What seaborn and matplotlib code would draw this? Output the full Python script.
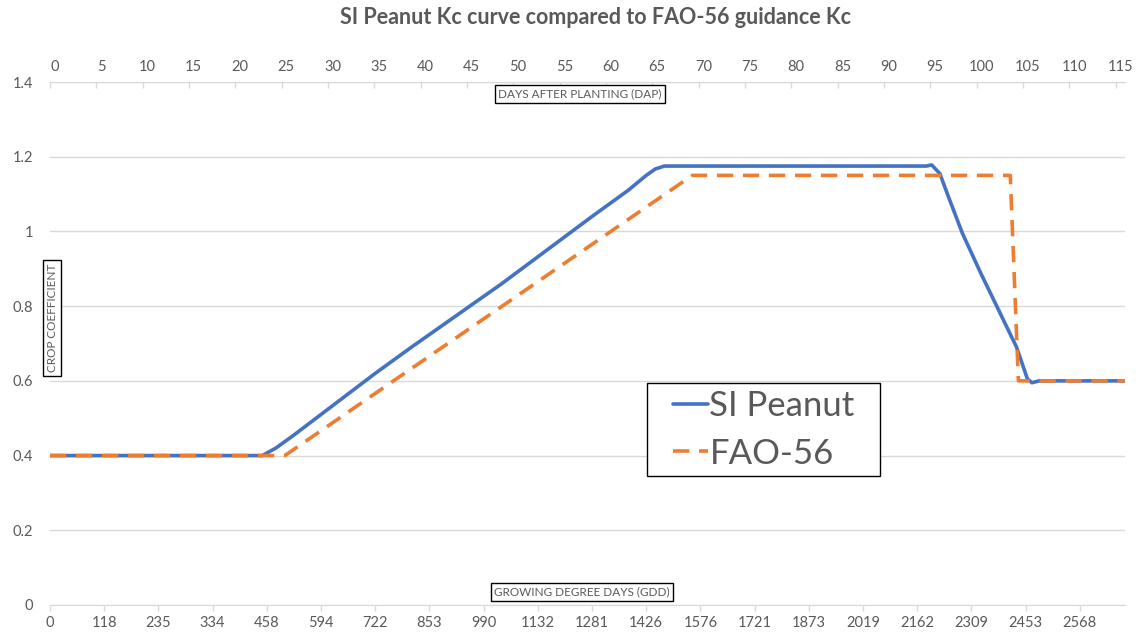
import numpy as np
import pandas as pd
import matplotlib
matplotlib.use('Agg')
import matplotlib.pyplot as plt
from matplotlib.patches import Rectangle
from matplotlib.ticker import FuncFormatter
import seaborn as sns

# x = GDD category index (one per day), y = crop coefficient
si_day = [0, 23.5, 25, 27, 30, 33, 36, 40, 45, 50, 55, 60, 62, 64, 66, 67, 68,
          97, 97.6, 98.5, 99.5, 101, 103, 105, 107, 108.2, 108.7, 109.5, 119]
si_kc = [0.40, 0.40, 0.42, 0.455, 0.51, 0.565, 0.62, 0.69, 0.775, 0.86, 0.95, 1.04, 1.075, 1.11, 1.15, 1.167, 1.175,
         1.175, 1.178, 1.155, 1.09, 0.995, 0.89, 0.79, 0.69, 0.605, 0.595, 0.60, 0.60]

fao_day = [0, 26.0, 71.1, 106.3, 107.2, 119]
fao_kc = [0.40, 0.40, 1.15, 1.15, 0.60, 0.60]

gdd_labels = ['0', '118', '235', '334', '458', '594', '722', '853', '990', '1132', '1281',
              '1426', '1576', '1721', '1873', '2019', '2162', '2309', '2453', '2568']
dap_labels = [str(d) for d in range(0, 116, 5)]

sns.set_style('white')
plt.rcParams['font.family'] = ['Lato', 'DejaVu Sans']
GRAY = '#595959'
GRID = '#D9D9D9'

si = pd.DataFrame({'day': si_day, 'kc': si_kc})
fao = pd.DataFrame({'day': fao_day, 'kc': fao_kc})

fig = plt.figure(figsize=(11.4, 6.4), dpi=100)
ax = fig.add_axes([50 / 1140, 35 / 640, 1075 / 1140, 523 / 640])

sns.lineplot(data=si, x='day', y='kc', ax=ax, color='#4472C4', linewidth=2.6,
             label='SI Peanut', zorder=3)
sns.lineplot(data=fao, x='day', y='kc', ax=ax, color='#ED7D31', linewidth=2.6,
             label='FAO-56', zorder=4)
ax.lines[-1].set_dashes([4.5, 2.7])

ax.set_xlim(0, 119)
ax.set_ylim(0, 1.4)
ax.set_yticks(np.arange(0, 1.41, 0.2))
ax.yaxis.set_major_formatter(FuncFormatter(lambda v, p: '%g' % round(v, 1)))
ax.set_xticks(range(0, 115, 6))
ax.set_xticklabels(gdd_labels)
ax.set_xlabel('')
ax.set_ylabel('')
ax.yaxis.grid(True, color=GRID, linewidth=1)
ax.tick_params(axis='y', length=0, pad=12, labelsize=10.5, labelcolor=GRAY)
ax.tick_params(axis='x', direction='out', length=4, color=GRID, width=1,
               pad=4, labelsize=10.5, labelcolor=GRAY, bottom=True)
for s in ['top', 'left', 'right']:
    ax.spines[s].set_visible(False)
ax.spines['bottom'].set_color(GRID)

# secondary top axis: days after planting, labels between tick marks
top = ax.twiny()
top.set_xlim(0, 116)
top.set_xticks(range(0, 116, 5))
top.set_xticklabels([])
top.set_xticks(np.arange(0, 116, 5) + 0.5, minor=True)
top.set_xticklabels(dap_labels, minor=True)
top.tick_params(axis='x', which='major', direction='in', length=4, color=GRID, width=1)
top.tick_params(axis='x', which='minor', length=0, pad=6, labelsize=10.5, labelcolor=GRAY)
for s in ['bottom', 'left', 'right']:
    top.spines[s].set_visible(False)
top.spines['top'].set_color(GRID)
top.patch.set_visible(False)
ax.set_zorder(top.get_zorder() + 1)
ax.patch.set_visible(False)

# legend without frame; the white box is drawn separately underneath it
leg = ax.legend(loc='upper left', bbox_to_anchor=(673 / 1140, 1 - 390 / 640),
                bbox_transform=fig.transFigure, borderaxespad=0, borderpad=0, fontsize=25,
                handlelength=1.0, handletextpad=0.05, labelspacing=0.45, frameon=False)
for t in leg.get_texts():
    t.set_color(GRAY)
leg.set_zorder(7)
ax.add_patch(Rectangle((647 / 1140, 1 - 476 / 640), 233 / 1140, 93 / 640,
                       transform=fig.transFigure, fc='white', ec='black', lw=1,
                       zorder=6, clip_on=False))

fig.text(596 / 1140, 1 - 17 / 640, 'SI Peanut Kc curve compared to FAO-56 guidance Kc',
         ha='center', va='center', fontsize=15.5, fontweight='bold', color=GRAY)

box = dict(boxstyle='square,pad=0.3', fc='white', ec='black', lw=1)
fig.text(580 / 1140, 1 - 94 / 640, 'DAYS AFTER PLANTING (DAP)', ha='center', va='center',
         fontsize=8.5, color=GRAY, bbox=box)
fig.text(582 / 1140, 1 - 592 / 640, 'GROWING DEGREE DAYS (GDD)', ha='center', va='center',
         fontsize=8.5, color=GRAY, bbox=box)
fig.text(52 / 1140, 1 - 318 / 640, 'CROP COEFFICIENT', ha='center', va='center',
         rotation=90, fontsize=8.5, color=GRAY, bbox=box)

fig.savefig('out.png', dpi=100)
